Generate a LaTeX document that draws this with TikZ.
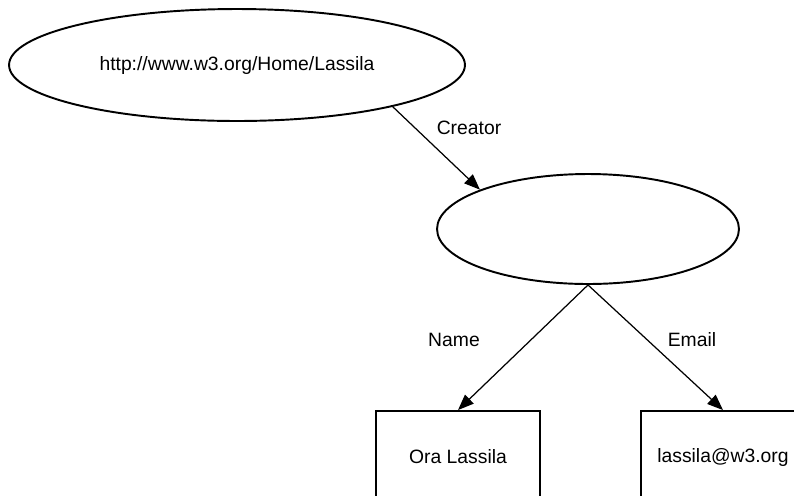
\documentclass[tikz,border=0pt]{standalone}
\usepackage{fontspec}
\setmainfont{Liberation Sans}
\usepackage{tikz}
\usetikzlibrary{shapes.geometric,arrows.meta}

\begin{document}
\begin{tikzpicture}[x=0.02cm,y=-0.02cm,
        font=\fontsize{11}{13}\selectfont,
        res/.style={draw,ellipse,line width=1.1pt,inner sep=0pt},
        lit/.style={draw,rectangle,line width=1.1pt,inner sep=0pt,minimum height=1.84cm},
        prop/.style={line width=0.7pt,-{Triangle[length=9pt,width=7pt]}},
        lbl/.style={inner sep=0pt}]
        \useasboundingbox (0,0) rectangle (794,495);
        \clip (0,0) rectangle (794,495);
        \node[res,minimum width=9.12cm,minimum height=2.24cm] (home) at (237,65) {http://www.w3.org/Home/Lassila};
        \node[res,minimum width=6.04cm,minimum height=2.2cm] (anon) at (588,229) {};
        \node[lit,minimum width=3.28cm] (name) at (458,457) {Ora Lassila};
        \node[lit,minimum width=3.28cm] (email) at (723,457) {lassila@w3.org};
        \draw[prop] (home.-15) -- (anon.160);
        \draw[prop] (anon.south) -- (name.north);
        \draw[prop] (anon.south) -- (email.north);
        \node[lbl] (creatorlbl) at (469,128) {Creator};
        \node[lbl] (namelbl) at (454,340) {Name};
        \node[lbl] (emaillbl) at (692,340) {Email};
    \end{tikzpicture}
\end{document}
